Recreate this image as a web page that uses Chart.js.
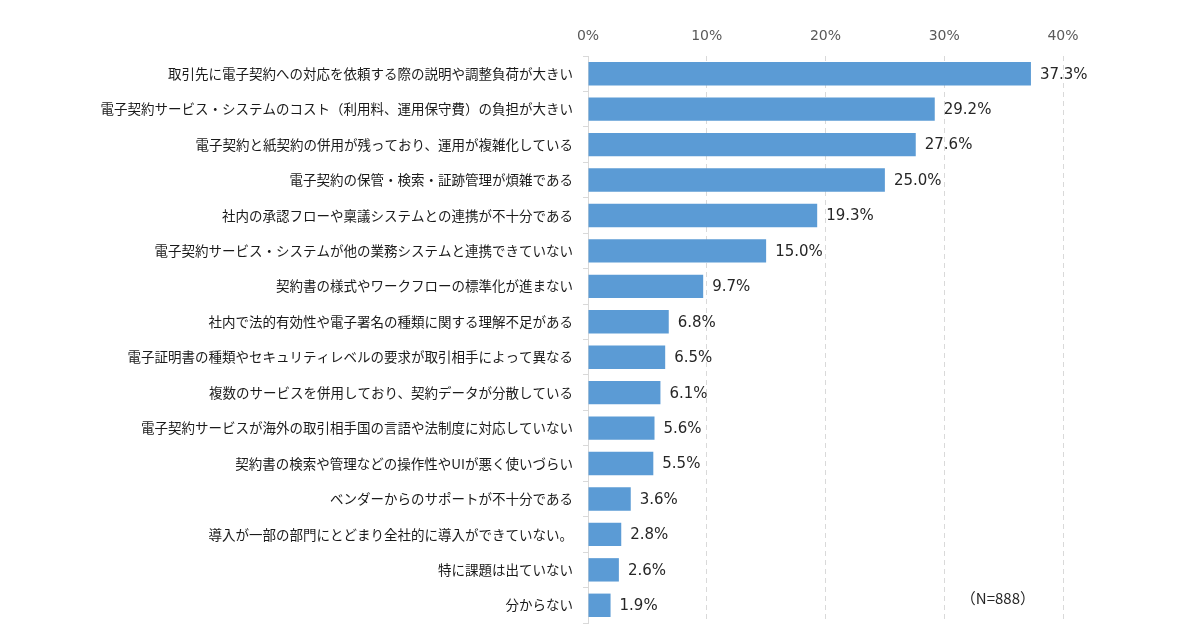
<!DOCTYPE html>
<html lang="ja">
<head>
  <meta charset="UTF-8" />
  <title>電子契約の課題</title>
  <script src="https://cdn.jsdelivr.net/npm/chart.js@4.4.1/dist/chart.umd.min.js"></script>
  <style>
    html, body {
      margin: 0;
      padding: 0;
      background: #ffffff;
    }
    #wrap {
      width: 1200px;
      height: 631px;
    }
  </style>
</head>
<body>
  <div id="wrap">
    <canvas id="barChart" width="1200" height="631"></canvas>
  </div>

  <script>
    // ------------
    // DATA
    // ------------
    const categories = [
      "取引先に電子契約への対応を依頼する際の説明や調整負荷が大きい",
      "電子契約サービス・システムのコスト（利用料、運用保守費）の負担が大きい",
      "電子契約と紙契約の併用が残っており、運用が複雑化している",
      "電子契約の保管・検索・証跡管理が煩雑である",
      "社内の承認フローや稟議システムとの連携が不十分である",
      "電子契約サービス・システムが他の業務システムと連携できていない",
      "契約書の様式やワークフローの標準化が進まない",
      "社内で法的有効性や電子署名の種類に関する理解不足がある",
      "電子証明書の種類やセキュリティレベルの要求が取引相手によって異なる",
      "複数のサービスを併用しており、契約データが分散している",
      "電子契約サービスが海外の取引相手国の言語や法制度に対応していない",
      "契約書の検索や管理などの操作性やUIが悪く使いづらい",
      "ベンダーからのサポートが不十分である",
      "導入が一部の部門にとどまり全社的に導入ができていない。",
      "特に課題は出ていない",
      "分からない",
    ];
    const values = [37.3, 29.2, 27.6, 25.0, 19.3, 15.0, 9.7, 6.8, 6.5, 6.1, 5.6, 5.5, 3.6, 2.8, 2.6, 1.9];
    const xTicks = [0, 10, 20, 30, 40];
    const sampleNote = "（N=888）";

    const JP_FONT = "'Noto Sans CJK JP', 'Noto Sans', sans-serif";
    const NUM_FONT = "'DejaVu Sans', 'Noto Sans CJK JP', sans-serif";

    // -------------------------------
    // VALUE LABELS + NOTE
    // -------------------------------
    const valueLabels = {
      id: "valueLabels",
      afterDatasetsDraw(chart) {
        const ctx = chart.ctx;
        const meta = chart.getDatasetMeta(0);
        ctx.save();
        ctx.font = "15px " + NUM_FONT;
        ctx.fillStyle = "#262626";
        ctx.textAlign = "left";
        ctx.textBaseline = "middle";
        meta.data.forEach((bar, i) => {
          ctx.fillText(values[i].toFixed(1) + "%", bar.x + 9, bar.y + 1);
        });

        // sample size note, bottom right of the plot
        const area = chart.chartArea;
        ctx.font = "15px " + JP_FONT;
        ctx.textAlign = "right";
        ctx.fillText(sampleNote, area.right - 28, area.bottom - 25);
        ctx.restore();
      },
    };

    // -------------------------------
    // CHART
    // -------------------------------
    const ctx = document.getElementById("barChart").getContext("2d");
    new Chart(ctx, {
      type: "bar",
      data: {
        labels: categories,
        datasets: [
          {
            data: values,
            backgroundColor: "#5B9BD5",
            borderWidth: 0,
            categoryPercentage: 1.0,
            barPercentage: 0.66,
          },
        ],
      },
      options: {
        indexAxis: "y",
        responsive: false,
        animation: false,
        devicePixelRatio: 1,
        layout: {
          padding: { left: 0, right: 137, top: 0, bottom: 8 },
        },
        plugins: {
          legend: { display: false },
          tooltip: { enabled: false },
        },
        scales: {
          x: {
            position: "top",
            min: 0,
            max: 40,
            afterBuildTicks(scale) {
              scale.ticks = xTicks.map((v) => ({ value: v }));
            },
            afterFit(scale) {
              scale.height = 56;
            },
            ticks: {
              callback: (v) => v + "%",
              color: "#595959",
              font: { size: 14, family: NUM_FONT },
              padding: 11,
              maxRotation: 0,
            },
            grid: {
              color: (c) => (c.tick && c.tick.value === 0 ? "rgba(0,0,0,0)" : "#d9d9d9"),
              drawTicks: false,
              lineWidth: 1,
            },
            border: { display: false, dash: [5, 4] },
          },
          y: {
            afterFit(scale) {
              scale.width = 588;
              // no extra room for half label heights at the ends
              scale.paddingTop = 0;
              scale.paddingBottom = 0;
            },
            ticks: {
              color: "#1a1a1a",
              font: { size: 13.5, family: JP_FONT },
              padding: 10,
              autoSkip: false,
            },
            grid: {
              drawOnChartArea: false,
              drawTicks: true,
              tickLength: 5,
              color: "#d9d9d9",
            },
            border: { display: true, color: "#d9d9d9" },
          },
        },
      },
      plugins: [valueLabels],
    });
  </script>
</body>
</html>
